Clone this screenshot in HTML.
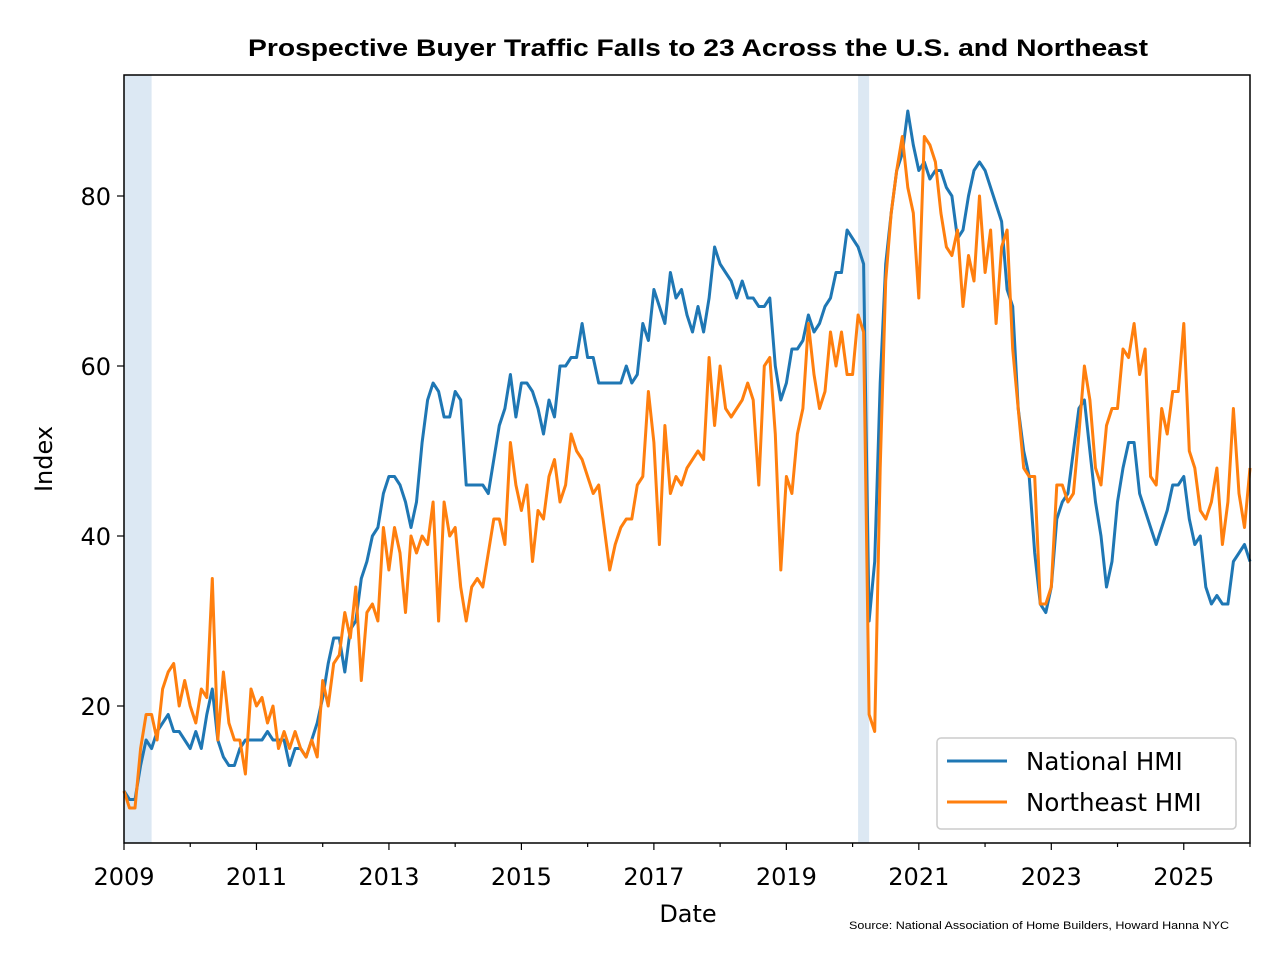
<!DOCTYPE html>
<html><head><meta charset="utf-8"><style>
body{margin:0;background:#fff;}
svg text{font-family:"DejaVu Sans","Liberation Sans",sans-serif;}
svg text.lib{font-family:"Liberation Sans",sans-serif;}
</style></head><body>
<svg id="chart" width="1280" height="960" xmlns="http://www.w3.org/2000/svg">
<rect width="1280" height="960" fill="#fff"/>
<text class="lib" x="248" y="56" textLength="900" lengthAdjust="spacingAndGlyphs" font-size="24" font-weight="bold">Prospective Buyer Traffic Falls to 23 Across the U.S. and Northeast</text>
<g id="shade"></g>
<g id="series"></g>
<rect x="124" y="75" width="1126" height="768" fill="none" stroke="#000" stroke-width="1.5"/>
<g id="axes"></g>
<text x="688" y="922" text-anchor="middle" font-size="24">Date</text>
<text transform="translate(52,459) rotate(-90)" text-anchor="middle" font-size="24">Index</text>
<text class="lib" x="849" y="929" textLength="380" lengthAdjust="spacingAndGlyphs" font-size="11">Source: National Association of Home Builders, Howard Hanna NYC</text>
<g>
<rect x="937" y="738" width="299" height="91" rx="4" fill="#fff" stroke="#ccc" stroke-width="1.5"/>
<line x1="947" y1="761" x2="1007" y2="761" stroke="#1f77b4" stroke-width="3"/>
<text x="1026" y="770" font-size="24.5">National HMI</text>
<line x1="947" y1="802" x2="1007" y2="802" stroke="#ff7f0e" stroke-width="3"/>
<text x="1026" y="811" font-size="24.5">Northeast HMI</text>
</g>
</svg>
<script>
const startYear = 2009;
const national = [
10,9,9,13,16,15,17,18,19,17,17,16,
15,17,15,19,22,16,14,13,13,15,16,16,
16,16,17,16,16,16,13,15,15,14,16,18,
21,25,28,28,24,29,30,35,37,40,41,45,
47,47,46,44,41,44,51,56,58,57,54,54,
57,56,46,46,46,46,45,49,53,55,59,54,
58,58,57,55,52,56,54,60,60,61,61,65,
61,61,58,58,58,58,58,60,58,59,65,63,
69,67,65,71,68,69,66,64,67,64,68,74,
72,71,70,68,70,68,68,67,67,68,60,56,
58,62,62,63,66,64,65,67,68,71,71,76,
75,74,72,30,37,58,72,78,83,85,90,86,
83,84,82,83,83,81,80,75,76,80,83,84,
83,81,79,77,69,67,55,50,47,38,32,31,
34,42,44,45,50,55,56,50,44,40,34,37,
44,48,51,51,45,43,41,39,41,43,46,46,
47,42,39,40,34,32,33,32,32,37,38,39,
37];
const northeast = [
10,8,8,15,19,19,16,22,24,25,20,23,
20,18,22,21,35,16,24,18,16,16,12,22,
20,21,18,20,15,17,15,17,15,14,16,14,
23,20,25,26,31,28,34,23,31,32,30,41,
36,41,38,31,40,38,40,39,44,30,44,40,
41,34,30,34,35,34,38,42,42,39,51,46,
43,46,37,43,42,47,49,44,46,52,50,49,
47,45,46,41,36,39,41,42,42,46,47,57,
51,39,53,45,47,46,48,49,50,49,61,53,
60,55,54,55,56,58,56,46,60,61,52,36,
47,45,52,55,65,59,55,57,64,60,64,59,
59,66,64,19,17,48,70,78,83,87,81,78,
68,87,86,84,78,74,73,76,67,73,70,80,
71,76,65,74,76,62,55,48,47,47,32,32,
34,46,46,44,45,52,60,56,48,46,53,55,
55,62,61,65,59,62,47,46,55,52,57,57,
65,50,48,43,42,44,48,39,44,55,45,41,
48];
const recessionStarts = [2009.0, 2020.083];
const recessionEnds = [2009.417, 2020.25];
const xTickLabels = [2009,2011,2013,2015,2017,2019,2021,2023,2025];
const yTickLabels = [20,40,60,80];

const X0=124, X1=1250, YMIN=2009, YMAX=2026;
function xs(t){return X0+(t-YMIN)/(YMAX-YMIN)*(X1-X0);}
function ys(v){return 876-v*8.5;}
const NS="http://www.w3.org/2000/svg";
function mk(tag,attrs,parent){const e=document.createElementNS(NS,tag);for(const k in attrs)e.setAttribute(k,attrs[k]);parent.appendChild(e);return e;}
const shade=document.getElementById('shade');
for(let i=0;i<recessionStarts.length;i++){
  const r=mk('rect',{x:xs(recessionStarts[i]),y:75,width:xs(recessionEnds[i])-xs(recessionStarts[i]),height:768,fill:'#dce8f3'},shade);
  
  
}
const sg=document.getElementById('series');
function line(data,color,name){
  const pts=data.map((v,i)=>xs(startYear+i/12).toFixed(1)+','+ys(v).toFixed(1)).join(' ');
  const p=mk('polyline',{points:pts,fill:'none',stroke:color,'stroke-width':3,'stroke-linejoin':'round'},sg);
  
  
}
line(national,'#1f77b4','national-hmi-line');
line(northeast,'#ff7f0e','northeast-hmi-line');
const ax=document.getElementById('axes');
for(let y=2009;y<=2026;y++){
  const major=xTickLabels.includes(y);
  const t=mk('line',{x1:xs(y),x2:xs(y),y1:843,y2:843+(major?7:4),stroke:'#000','stroke-width':1.2},ax);
  
  
}
xTickLabels.forEach(y=>{
  const t=mk('text',{x:xs(y),y:885,'text-anchor':'middle','font-size':24},ax);
  t.textContent=y;
  
  
});
yTickLabels.forEach(v=>{
  const l=mk('line',{x1:117,x2:124,y1:ys(v),y2:ys(v),stroke:'#000','stroke-width':1.2},ax);
  
  
  const t=mk('text',{x:111,y:ys(v)+9,'text-anchor':'end','font-size':24},ax);
  t.textContent=v;
  
  
});
</script>
</body></html>
